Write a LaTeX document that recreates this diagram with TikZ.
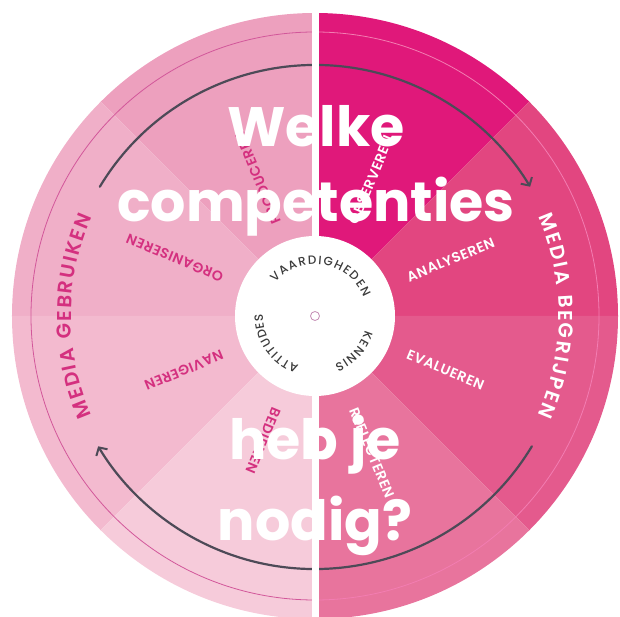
\documentclass[tikz,border=0pt]{standalone}
\usepackage{fontspec}
\setmainfont{Poppins}
\newfontfamily\headfont{Poppins}[UprightFont=* Bold]
\newfontfamily\labelfont{Poppins}[UprightFont=* SemiBold, LetterSpace=4]
\newfontfamily\ringfont{Poppins}[UprightFont=* Medium]
\usetikzlibrary{arrows.meta,decorations.text}

% wheel colours
\definecolor{obsC}{HTML}{E0187A}
\definecolor{anaC}{HTML}{E24680}
\definecolor{evaC}{HTML}{E45A8D}
\definecolor{refC}{HTML}{E8749D}
\definecolor{proC}{HTML}{EDA0BE}
\definecolor{orgC}{HTML}{F0AFC8}
\definecolor{navC}{HTML}{F3BACF}
\definecolor{bedC}{HTML}{F6CBDA}
\definecolor{magC}{HTML}{D4307F}
\definecolor{ringL}{HTML}{D2579A}
\definecolor{ringR}{HTML}{F37DB2}
\definecolor{arrowC}{HTML}{4D4A57}
\definecolor{hubC}{HTML}{C58DB5}
\definecolor{inkC}{HTML}{3B3B3B}

\tikzset{
  x=1pt, y=1pt,
  cycleline/.style={line width=2.2pt, draw=arrowC, line cap=round,
    -{Straight Barb[length=6pt,width=13pt,line width=2pt]}},
  seglabel/.style={font=\labelfont\fontsize{14}{14}\selectfont, anchor=west, inner sep=0pt},
  headtext/.style={font=\headfont\fontsize{55.5}{55.5}\selectfont, text=white, anchor=base, inner sep=0pt},
}

\begin{document}
\begin{tikzpicture}
\useasboundingbox (-315,-301) rectangle (305,316);

% eight wedges of the wheel, cut out of the disc
\begin{scope}
  \clip (0,0) circle (303);
  \foreach \a/\c in {45/obsC, 0/anaC, -45/evaC, -90/refC, 90/proC, 135/orgC, 180/navC, 225/bedC}{
    \pgfmathsetmacro\b{\a+45}
    \fill[\c] (0,0) -- (\a:520) -- (\b:520) -- cycle;
  }
\end{scope}

% thin outer ring
\draw[ringL, line width=0.8pt] (90:284) arc[start angle=90, end angle=270, radius=284];
\draw[ringR, line width=0.8pt] (-90:284) arc[start angle=-90, end angle=90, radius=284];

% cycle arrows
\coordinate (topStart) at (149:251);
\coordinate (botStart) at (-31:253);
\draw[cycleline] (topStart) arc[start angle=149, end angle=31, radius=251];
\draw[cycleline] (botStart) arc[start angle=-31, end angle=-149, radius=253];

% white divider between the halves
\fill[white] (-3.5,-305) rectangle (4,305);

% hub
\fill[white] (0,0) circle (80);
\draw[hubC, line width=0.8pt] (0,0) circle (4.5);

% hub words
\path[decorate, decoration={text along path, text align={fit to path},
  text={|\ringfont\fontsize{12}{12}\selectfont\color{inkC}|VAARDIGHEDEN}}]
  (140:52) arc[start angle=140, end angle=21, radius=52];
\path[decorate, decoration={text along path, text align={fit to path},
  text={|\ringfont\fontsize{12}{12}\selectfont\color{inkC}|KENNIS}}]
  (-16:52) arc[start angle=-16, end angle=-68, radius=52];
\path[decorate, decoration={text along path, text align={fit to path},
  text={|\ringfont\fontsize{12}{12}\selectfont\color{inkC}|ATTITUDES}}]
  (252:52) arc[start angle=252, end angle=178, radius=52];

% side titles
\path[decorate, decoration={text along path, text align={fit to path},
  text={|\labelfont\fontsize{20}{20}\selectfont\color{magC}|MEDIA GEBRUIKEN}}]
  (204:244) arc[start angle=204, end angle=156, radius=244];
\path[decorate, decoration={text along path, text align={fit to path},
  text={|\labelfont\fontsize{20}{20}\selectfont\color{white}|MEDIA BEGRIJPEN}}]
  (24:244) arc[start angle=24, end angle=-24, radius=244];

% wedge labels
\node[seglabel, rotate=67.5, text=white] (obs) at (67.5:100) {OBSERVEREN};
\node[seglabel, rotate=22.5, text=white] (ana) at (22.5:100) {ANALYSEREN};
\node[seglabel, rotate=-22.5, text=white] (eva) at (-22.5:100) {EVALUEREN};
\node[seglabel, rotate=-67.5, text=white] (ref) at (-67.5:100) {REFLECTEREN};
\node[seglabel, rotate=112.5, text=magC] (pro) at (112.5:100) {PRODUCEREN};
\node[seglabel, rotate=157.5, text=magC] (org) at (157.5:100) {ORGANISEREN};
\node[seglabel, rotate=202.5, text=magC] (nav) at (202.5:100) {NAVIGEREN};
\node[seglabel, rotate=247.5, text=magC] (bed) at (247.5:100) {BEDIENEN};

% question
\node[headtext] (q1) at (1,169) {Welke};
\node[headtext] (q2) at (1,94) {competenties};
\node[headtext] (q3) at (0,-144) {heb je};
\node[headtext] (q4) at (0,-224) {nodig?};
\end{tikzpicture}
\end{document}
